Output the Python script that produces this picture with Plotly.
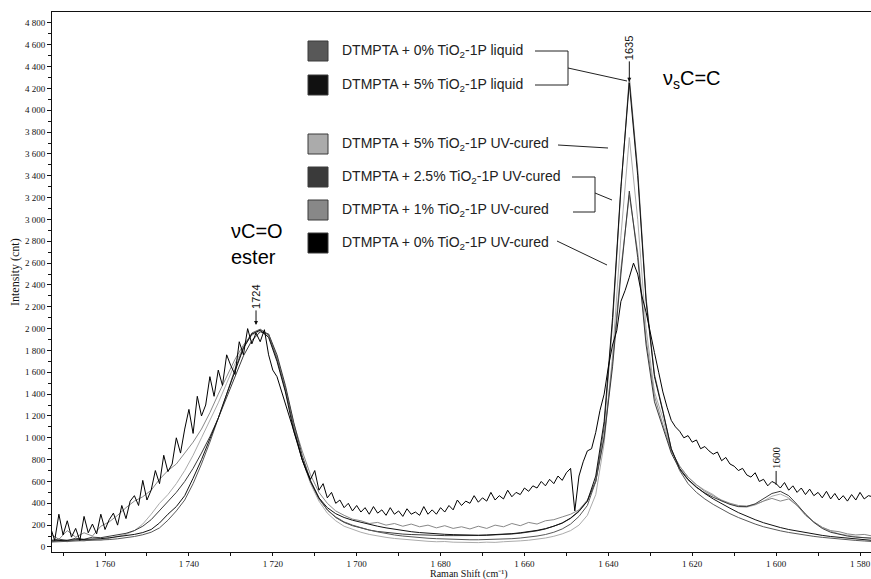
import plotly.graph_objects as go

# ---------------- data ----------------
shift_coarse = list(range(1773, 1576, -2))   # 99 points, cm-1
shift_fine = list(range(1773, 1576, -1))     # 197 points, cm-1

liq0 = [45, 48, 50, 52, 55, 58, 62, 68, 75, 84,
        96, 112, 135, 175, 245, 330, 430, 580, 760, 960,
        1170, 1400, 1630, 1830, 1960, 1995, 1940, 1720, 1440, 1100,
        810, 600, 440, 340, 275, 230, 200, 175, 155, 138,
        122, 110, 100, 92, 85, 80, 76, 72, 70, 68,
        66, 66, 67, 69, 72, 76, 82, 90, 100, 114,
        135, 165, 210, 280, 380, 600, 1100, 2050, 3280, 4300,
        3450, 2280, 1580, 1250, 900, 700, 580, 500, 440, 390,
        345, 305, 270, 238, 210, 185, 165, 148, 133, 120,
        108, 97, 88, 80, 72, 66, 60, 55, 50]

liq5 = [55, 58, 60, 62, 66, 70, 76, 84, 92, 102,
        115, 132, 160, 220, 300, 370, 470, 630, 800, 990,
        1180, 1400, 1620, 1820, 1950, 1985, 1920, 1700, 1420, 1060,
        800, 600, 450, 360, 305, 270, 245, 225, 205, 190,
        175, 162, 150, 140, 132, 125, 120, 116, 113, 110,
        108, 108, 110, 112, 116, 122, 130, 140, 152, 168,
        190, 220, 265, 330, 420, 650, 1150, 2100, 3300, 4250,
        3400, 2250, 1560, 1240, 900, 720, 620, 550, 490, 440,
        395, 355, 315, 280, 250, 222, 198, 178, 160, 145,
        130, 118, 106, 96, 88, 80, 72, 66, 60]

uv5 = [45, 60, 48, 65, 55, 70, 62, 80, 95, 115,
       150, 210, 300, 400, 480, 580, 700, 840, 1000, 1160,
       1320, 1500, 1680, 1830, 1940, 1975, 1930, 1720, 1440, 1100,
       800, 580, 420, 310, 240, 190, 160, 135, 115, 100,
       88, 78, 70, 62, 58, 52, 48, 50, 44, 42,
       46, 40, 44, 42, 48, 50, 56, 62, 70, 82,
       98, 120, 150, 200, 290, 480, 950, 1750, 2850, 3750,
       3000, 2000, 1420, 1180, 880, 740, 640, 570, 520, 480,
       420, 395, 370, 365, 385, 420, 465, 485, 450, 380,
       300, 230, 180, 145, 120, 105, 95, 85, 80]

uv25 = [60, 72, 58, 80, 70, 90, 85, 100, 110, 125,
        150, 190, 250, 330, 410, 500, 600, 720, 860, 1010,
        1180, 1370, 1560, 1750, 1890, 1970, 1950, 1760, 1480, 1140,
        840, 610, 450, 340, 270, 225, 195, 172, 155, 142,
        132, 124, 118, 114, 110, 108, 106, 104, 104, 103,
        104, 105, 107, 110, 114, 119, 126, 136, 148, 165,
        188, 218, 262, 325, 420, 600, 1000, 1650, 2500, 3260,
        2650, 1850, 1330, 1100, 860, 710, 615, 545, 495, 455,
        420, 390, 370, 370, 395, 440, 490, 510, 470, 390,
        300, 225, 170, 135, 115, 100, 90, 85, 80]

uv1 = [120, 70, 150, 90, 130, 100, 190, 230, 290, 360,
       420, 460, 520, 620, 700, 760, 860, 960, 1080, 1230,
       1400, 1560, 1720, 1850, 1950, 1990, 1950, 1740, 1460, 1130,
       880, 660, 500, 400, 330, 290, 255, 240, 215, 225,
       200, 215, 190, 210, 185, 200, 175, 195, 170, 185,
       165, 190, 170, 200, 185, 215, 195, 225, 210, 240,
       250, 275, 300, 340, 430, 610, 1020, 1700, 2550, 3220,
       2700, 1900, 1380, 1120, 880, 740, 640, 570, 510, 470,
       430, 400, 380, 375, 390, 420, 445, 420, 440, 380,
       290, 230, 180, 150, 140, 120, 110, 115, 100]

uv0 = [180, 60, 300, 110, 240, 90, 170, 60, 280, 130,
       210, 120, 300, 160, 250, 310, 200, 380, 260, 420,
       470, 380, 610, 430, 520, 700, 580, 840, 690, 760,
       1000, 860, 1080, 1260, 1040, 1380, 1200, 1300, 1560, 1380,
       1620, 1480, 1760, 1660, 1580, 1880, 1760, 2000, 1860, 1960,
       1880, 1990, 1760, 1620, 1560, 1440, 1300, 1180, 1060, 940,
       800, 700, 620, 700, 520, 580, 450, 500, 400, 430,
       360, 400, 330, 380, 320, 360, 300, 370, 310, 340,
       290, 360, 300, 330, 280, 350, 300, 320, 290, 370,
       300, 340, 300, 360, 320, 380, 340, 430, 380, 420,
       400, 470, 410, 450, 420, 500, 430, 470, 440, 520,
       460, 500, 480, 540, 510, 560, 540, 600, 560, 620,
       580, 650, 610, 680, 720, 330, 650, 780, 880, 900,
       1050, 1250, 1400, 1650, 1850, 1980, 2250, 2350, 2470, 2600,
       2500, 2300, 2150, 1950, 1780, 1600, 1420, 1280, 1160, 1100,
       1060, 1000, 1020, 960, 980, 900, 920, 880, 850, 870,
       790, 820, 760, 740, 700, 720, 660, 640, 680, 600,
       620, 560, 600, 580, 540, 590, 520, 560, 500, 540,
       480, 530, 470, 500, 450, 510, 440, 490, 430, 470,
       420, 480, 430, 500, 440, 470, 460]

legend_labels = [
    "DTMPTA + 0% TiO<sub>2</sub>-1P liquid",
    "DTMPTA + 5% TiO<sub>2</sub>-1P liquid",
    "DTMPTA + 5% TiO<sub>2</sub>-1P UV-cured",
    "DTMPTA + 2.5% TiO<sub>2</sub>-1P UV-cured",
    "DTMPTA + 1% TiO<sub>2</sub>-1P UV-cured",
    "DTMPTA + 0% TiO<sub>2</sub>-1P UV-cured",
]
legend_colors = ["#585858", "#111111", "#ababab", "#3a3a3a", "#888888", "#000000"]

x_tick_vals = [1760, 1740, 1720, 1700, 1680, 1660, 1640, 1620, 1600, 1580]
x_tick_text = ["1 760", "1 740", "1 720", "1 700", "1 680", "1 660", "1 640", "1 620", "1 600", "1 580"]
x_minor_vals = [1770, 1750, 1730, 1710, 1690, 1670, 1650, 1630, 1610, 1590]
y_tick_vals = list(range(0, 4801, 200))
y_tick_text = ["0", "200", "400", "600", "800", "1 000", "1 200", "1 400", "1 600", "1 800",
               "2 000", "2 200", "2 400", "2 600", "2 800", "3 000", "3 200", "3 400", "3 600",
               "3 800", "4 000", "4 200", "4 400", "4 600", "4 800"]
y_minor_vals = list(range(100, 4801, 200))

peak_labels = ["1635", "1724", "1600"]
peak_pos = [1635, 1724, 1600]
peak_height = [4260, 2034, 568]

# ---------------- geometry ----------------
W, H = 871, 579
L, R, T, B = 52, 0, 12, 27
PW = W - L - R
PH = H - T - B


def px(x):
    return (x - L) / PW


def py(y):
    return (H - B - y) / PH


SANS = "Liberation Sans, Arial, sans-serif"
SERIF = "Liberation Serif, Times New Roman, serif"

fig = go.Figure()
series = [
    (shift_coarse, uv5, legend_colors[2], legend_labels[2]),
    (shift_coarse, uv1, legend_colors[4], legend_labels[4]),
    (shift_coarse, uv25, legend_colors[3], legend_labels[3]),
    (shift_coarse, liq0, legend_colors[0], legend_labels[0]),
    (shift_coarse, liq5, legend_colors[1], legend_labels[1]),
    (shift_fine, uv0, legend_colors[5], legend_labels[5]),
]
for xs, ys, col, name in series:
    fig.add_trace(go.Scatter(x=xs, y=ys, mode="lines", name=name,
                             line=dict(color=col, width=1), showlegend=False))

shapes = []
annos = []
rows_y = [51, 85, 144, 177, 210, 243]
for lab, col, yy in zip(legend_labels, legend_colors, rows_y):
    shapes.append(dict(type="rect", xref="paper", yref="paper",
                       x0=px(308), x1=px(328), y0=py(yy + 10), y1=py(yy - 10),
                       fillcolor=col, line=dict(color="#3a3a3a", width=1)))
    annos.append(dict(x=px(340), y=py(yy), xref="paper", yref="paper", text=lab,
                      showarrow=False, xanchor="left", yanchor="middle",
                      font=dict(family=SANS, size=14, color="#222222")))

seg = [
    ((535, 51), (568, 51)), ((568, 51), (568, 85)), ((535, 85), (568, 85)),
    ((568, 68), (627, 81)),
    ((558, 145), (608, 148)),
    ((572, 177), (595, 177)), ((595, 177), (595, 212)), ((573, 212), (595, 212)),
    ((595, 193), (612, 200)),
    ((557, 241), (607, 265)),
]
for (x0, y0), (x1, y1) in seg:
    shapes.append(dict(type="line", xref="paper", yref="paper",
                       x0=px(x0), y0=py(y0), x1=px(x1), y1=py(y1),
                       line=dict(color="#222222", width=1)))

offsets = [-34, -28, -27]
heads = [2, 2, 0]
fams = [SANS, SANS, SERIF]
for lab, xv, yv, ay, hd, fam in zip(peak_labels, peak_pos, peak_height, offsets, heads, fams):
    annos.append(dict(x=xv, y=yv, xref="x", yref="y", text=lab, textangle=-90,
                      showarrow=True, ax=0, ay=ay, arrowhead=hd, arrowsize=0.8,
                      arrowwidth=1, arrowcolor="#111111",
                      font=dict(family=fam, size=11, color="#111111")))

annos.append(dict(x=px(229), y=py(231), xref="paper", yref="paper", text="νC=O",
                  showarrow=False, xanchor="left", yanchor="middle",
                  font=dict(family=SANS, size=20, color="#000000")))
annos.append(dict(x=px(229), y=py(257), xref="paper", yref="paper", text="ester",
                  showarrow=False, xanchor="left", yanchor="middle",
                  font=dict(family=SANS, size=20, color="#000000")))
annos.append(dict(x=px(661), y=py(80), xref="paper", yref="paper",
                  text="ν<sub>s</sub>C=C",
                  showarrow=False, xanchor="left", yanchor="middle",
                  font=dict(family=SANS, size=20, color="#000000")))

annos.append(dict(x=px(15), y=py(272), xref="paper", yref="paper", text="Intensity (cnt)",
                  textangle=-90, showarrow=False, xanchor="center", yanchor="middle",
                  font=dict(family=SERIF, size=12, color="#111111")))
annos.append(dict(x=px(469), y=py(574), xref="paper", yref="paper",
                  text="Raman Shift (cm⁻¹)",
                  showarrow=False, xanchor="center", yanchor="middle",
                  font=dict(family=SERIF, size=10, color="#111111")))

fig.update_layout(
    width=W, height=H,
    margin=dict(l=L, r=R, t=T, b=B, autoexpand=False),
    paper_bgcolor="white", plot_bgcolor="white",
    shapes=shapes, annotations=annos, showlegend=False,
    xaxis=dict(range=[1772.64, 1577.38], tickmode="array", tickvals=x_tick_vals,
               ticktext=x_tick_text, ticks="outside", ticklen=3, tickcolor="#111",
               showline=True, linecolor="#111", linewidth=1, mirror=True,
               showgrid=False, zeroline=False,
               tickfont=dict(family=SERIF, size=9, color="#111"),
               minor=dict(tickmode="array", tickvals=x_minor_vals, ticks="outside",
                          ticklen=3, tickcolor="#111", showgrid=False)),
    yaxis=dict(range=[-46, 4900], tickmode="array", tickvals=y_tick_vals,
               ticktext=y_tick_text, ticks="outside", ticklen=4, tickcolor="#111",
               showline=True, linecolor="#111", linewidth=1,
               showgrid=False, zeroline=False,
               tickfont=dict(family=SERIF, size=9, color="#111"),
               minor=dict(tickmode="array", tickvals=y_minor_vals, ticks="outside",
                          ticklen=3, tickcolor="#111", showgrid=False)),
)

fig.write_html("out.html", config={"displayModeBar": False},
               post_script="document.body.style.margin='0px';document.body.style.overflow='hidden';")
